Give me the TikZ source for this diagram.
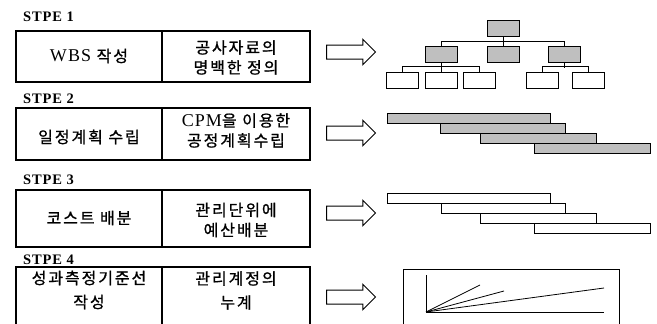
\documentclass[tikz,border=0pt]{standalone}
\usepackage{fontspec}
\setmainfont{Liberation Serif}
\newfontfamily\krfont[LetterSpace=12, FakeBold=1]{Noto Sans CJK KR}
\newfontfamily\engfont[LetterSpace=6]{Liberation Serif}
\newfontfamily\stpfont[LetterSpace=6]{Liberation Serif}
\newcommand\eng[1]{{\engfont\fontsize{18}{20}\selectfont #1}}
\usetikzlibrary{shapes.arrows}
\tikzset{
    boxline/.style={line width=1.2pt},
    celltext/.style={align=center, inner sep=0pt, font=\krfont\fontsize{16}{20}\selectfont},
    steplabel/.style={anchor=base west, inner sep=0pt, font=\stpfont\bfseries\fontsize{14.5}{14.5}\selectfont},
    bigarrow/.style={single arrow, draw, line width=1pt, minimum height=49pt, minimum width=24pt,
        inner xsep=0pt, inner ysep=6.5pt, single arrow head extend=5.75pt},
    topbox/.style={draw, line width=1pt, minimum width=32pt, minimum height=16pt, inner sep=0pt},
    greybox/.style={topbox, fill=gray!50},
    bar/.style={draw, line width=1pt, anchor=north west, minimum height=10pt, inner sep=0pt},
    greybar/.style={bar, fill=gray!50},
}
\begin{document}
\begin{tikzpicture}[x=1pt, y=-1pt]
    \useasboundingbox (0,0) rectangle (657,324);

    % step labels
    \node[steplabel] (s1) at (23,21) {STPE 1};
    \node[steplabel] (s2) at (23,103) {STPE 2};
    \node[steplabel] (s3) at (23,184) {STPE 3};
    \node[steplabel] (s4) at (23,264) {STPE 4};

    % boxes
    \draw[boxline] (16,31) rectangle (310,82);
    \draw[boxline] (162,31) -- (162,82);
    \draw[boxline] (16,108) rectangle (310,160);
    \draw[boxline] (162,108) -- (162,160);
    \draw[boxline] (16,190) rectangle (310,247);
    \draw[boxline] (162,190) -- (162,247);
    \draw[boxline] (16,267) rectangle (310,335);
    \draw[boxline] (162,267) -- (162,335);

    \node[celltext] (l1) at (89,56) {\eng{WBS} 작성};
    \node[celltext] (r1) at (236,57.5) {공사자료의\\명백한 정의};
    \node[celltext] (l2) at (89,137) {일정계획 수립};
    \node[celltext] (r2) at (236,130.5) {\eng{CPM}을 이용한\\공정계획수립};
    \node[celltext] (l3) at (89,218) {코스트 배분};
    \node[celltext] (r3) at (236,220) {관리단위에\\예산배분};
    \node[celltext] (l4) at (89,290) {성과측정기준선\\[4pt]작성};
    \node[celltext] (r4) at (236,290.5) {관리계정의\\[4pt]누계};

    % arrows
    \node[bigarrow] (p1) at (347.5,52) {};
    \node[bigarrow] (p2) at (347.5,133) {};
    \node[bigarrow] (p3) at (347.5,213) {};
    \node[bigarrow] (p4) at (347.5,297) {};

    % WBS tree
    \node[greybox] (t) at (503,28) {};
    \node[greybox] (a) at (441,54) {};
    \node[greybox] (b) at (503,54) {};
    \node[greybox] (c) at (564.5,54) {};
    \node[topbox] (a1) at (402,80) {};
    \node[topbox] (a2) at (441,80) {};
    \node[topbox] (a3) at (479.5,80) {};
    \node[topbox] (c1) at (542,80) {};
    \node[topbox] (c2) at (588.5,80) {};

    \draw[line width=1pt] (t) -- (b);
    \draw[line width=1pt] (a.north) -- ++(0,-4) -| (c.north);
    \draw[line width=1pt] (a) -- (a2);
    \draw[line width=1pt] (a1.north) -- ++(0,-5) -| (a3.north);
    \draw[line width=1pt] (c.south) -- ++(0,5);
    \draw[line width=1pt] (c1.north) -- ++(0,-5) -| (c2.north);

    % schedule bars
    \node[greybar, minimum width=163pt] (g1) at (387,113) {};
    \node[greybar, minimum width=125pt] (g2) at (440,123) {};
    \node[greybar, minimum width=116pt] (g3) at (480,133) {};
    \node[greybar, minimum width=116pt] (g4) at (534,143) {};

    \node[bar, minimum width=163pt] (h1) at (387,193) {};
    \node[bar, minimum width=124pt] (h2) at (441,203) {};
    \node[bar, minimum width=116pt] (h3) at (480,213) {};
    \node[bar, minimum width=116pt] (h4) at (534,223) {};

    % baseline chart
    \draw[line width=1pt] (403,269) rectangle (619,335);
    \coordinate (o) at (426,312);
    \draw[line width=1pt] (426,275) -- (o) -- (604,312);
    \draw[line width=0.8pt] (o) -- (480,285);
    \draw[line width=0.8pt] (o) -- (504,291);
    \draw[line width=0.8pt] (o) -- (604,288);
\end{tikzpicture}
\end{document}
